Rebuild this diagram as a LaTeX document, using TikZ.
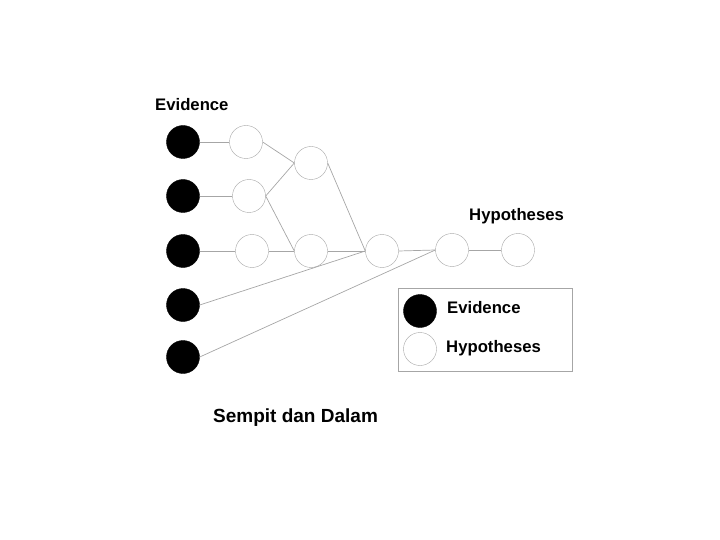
\documentclass[tikz,border=0pt]{standalone}
\usepackage{fontspec}
\setmainfont{Liberation Sans}
\usepackage{tikz}
\usetikzlibrary{positioning}

\begin{document}
\begin{tikzpicture}[
    x=1pt, y=-1pt,         % pixel-like coordinates
    evidence/.style={
        draw=black, 
        fill=black, 
        circle, 
        minimum size=33pt, 
        inner sep=0pt
    },
    hypothesis/.style={
        draw=gray!70, 
        fill=white, 
        circle, 
        minimum size=33pt, 
        inner sep=0pt
    },
    link/.style={
        draw=gray!70, 
        line width=0.7pt
    },
    heading/.style={
        inner sep=0pt, 
        anchor=base west, 
        font=\bfseries\fontsize{16.7}{20}\selectfont
    },
    legendbox/.style={
        draw=gray!70, 
        line width=0.7pt, 
        rectangle, 
        minimum width=174pt, 
        minimum height=83pt
    }
]
    \useasboundingbox (0,0) rectangle (720,540);

        \node[heading] (evTitle) at (155,111) {Evidence};
        \node[heading] (hyTitle) at (469,221) {Hypotheses};

        \node[evidence] (ev1) at (183,142) {};
        \node[evidence] (ev2) at (183,196) {};
        \node[evidence] (ev3) at (183,251) {};
        \node[evidence] (ev4) at (183,305) {};
        \node[evidence] (ev5) at (183,357) {};

        \node[hypothesis] (h1) at (246,142) {};
        \node[hypothesis] (h2) at (249,196) {};
        \node[hypothesis] (h3) at (252,251) {};
        \node[hypothesis] (h4) at (311,163) {};
        \node[hypothesis] (h5) at (311,251) {};
        \node[hypothesis] (h6) at (382,251) {};
        \node[hypothesis] (h7) at (452,250) {};
        \node[hypothesis] (h8) at (518,250) {};

    \draw[link] (ev1.east) -- (h1.west);
    \draw[link] (ev2.east) -- (h2.west);
    \draw[link] (ev3.east) -- (h3.west);
    \draw[link] (ev4.east) -- (h6.west);
    \draw[link] (ev5.east) -- (h7.west);

    \draw[link] (h1.east) -- (h4.west);
    \draw[link] (h2.east) -- (h4.west);
    \draw[link] (h2.east) -- (h5.west);
    \draw[link] (h3.east) -- (h5.west);
    \draw[link] (h4.east) -- (h6.west);
    \draw[link] (h5.east) -- (h6.west);
    \draw[link] (h6.east) -- (h7.west);
    \draw[link] (h7.east) -- (h8.west);

        % legend
        \node[legendbox] (legend) at (485,329.5) {};
        \node[evidence] (legEv) at (420,311) {};
        \node[hypothesis] (legHy) at (420,349) {};
        \node[heading] (legEvText) at (447,313) {Evidence};
        \node[heading] (legHyText) at (446,352) {Hypotheses};

        \node[heading, font=\bfseries\fontsize{19}{23}\selectfont] (title) at (213,422) {Sempit dan Dalam};
\end{tikzpicture}
\end{document}
